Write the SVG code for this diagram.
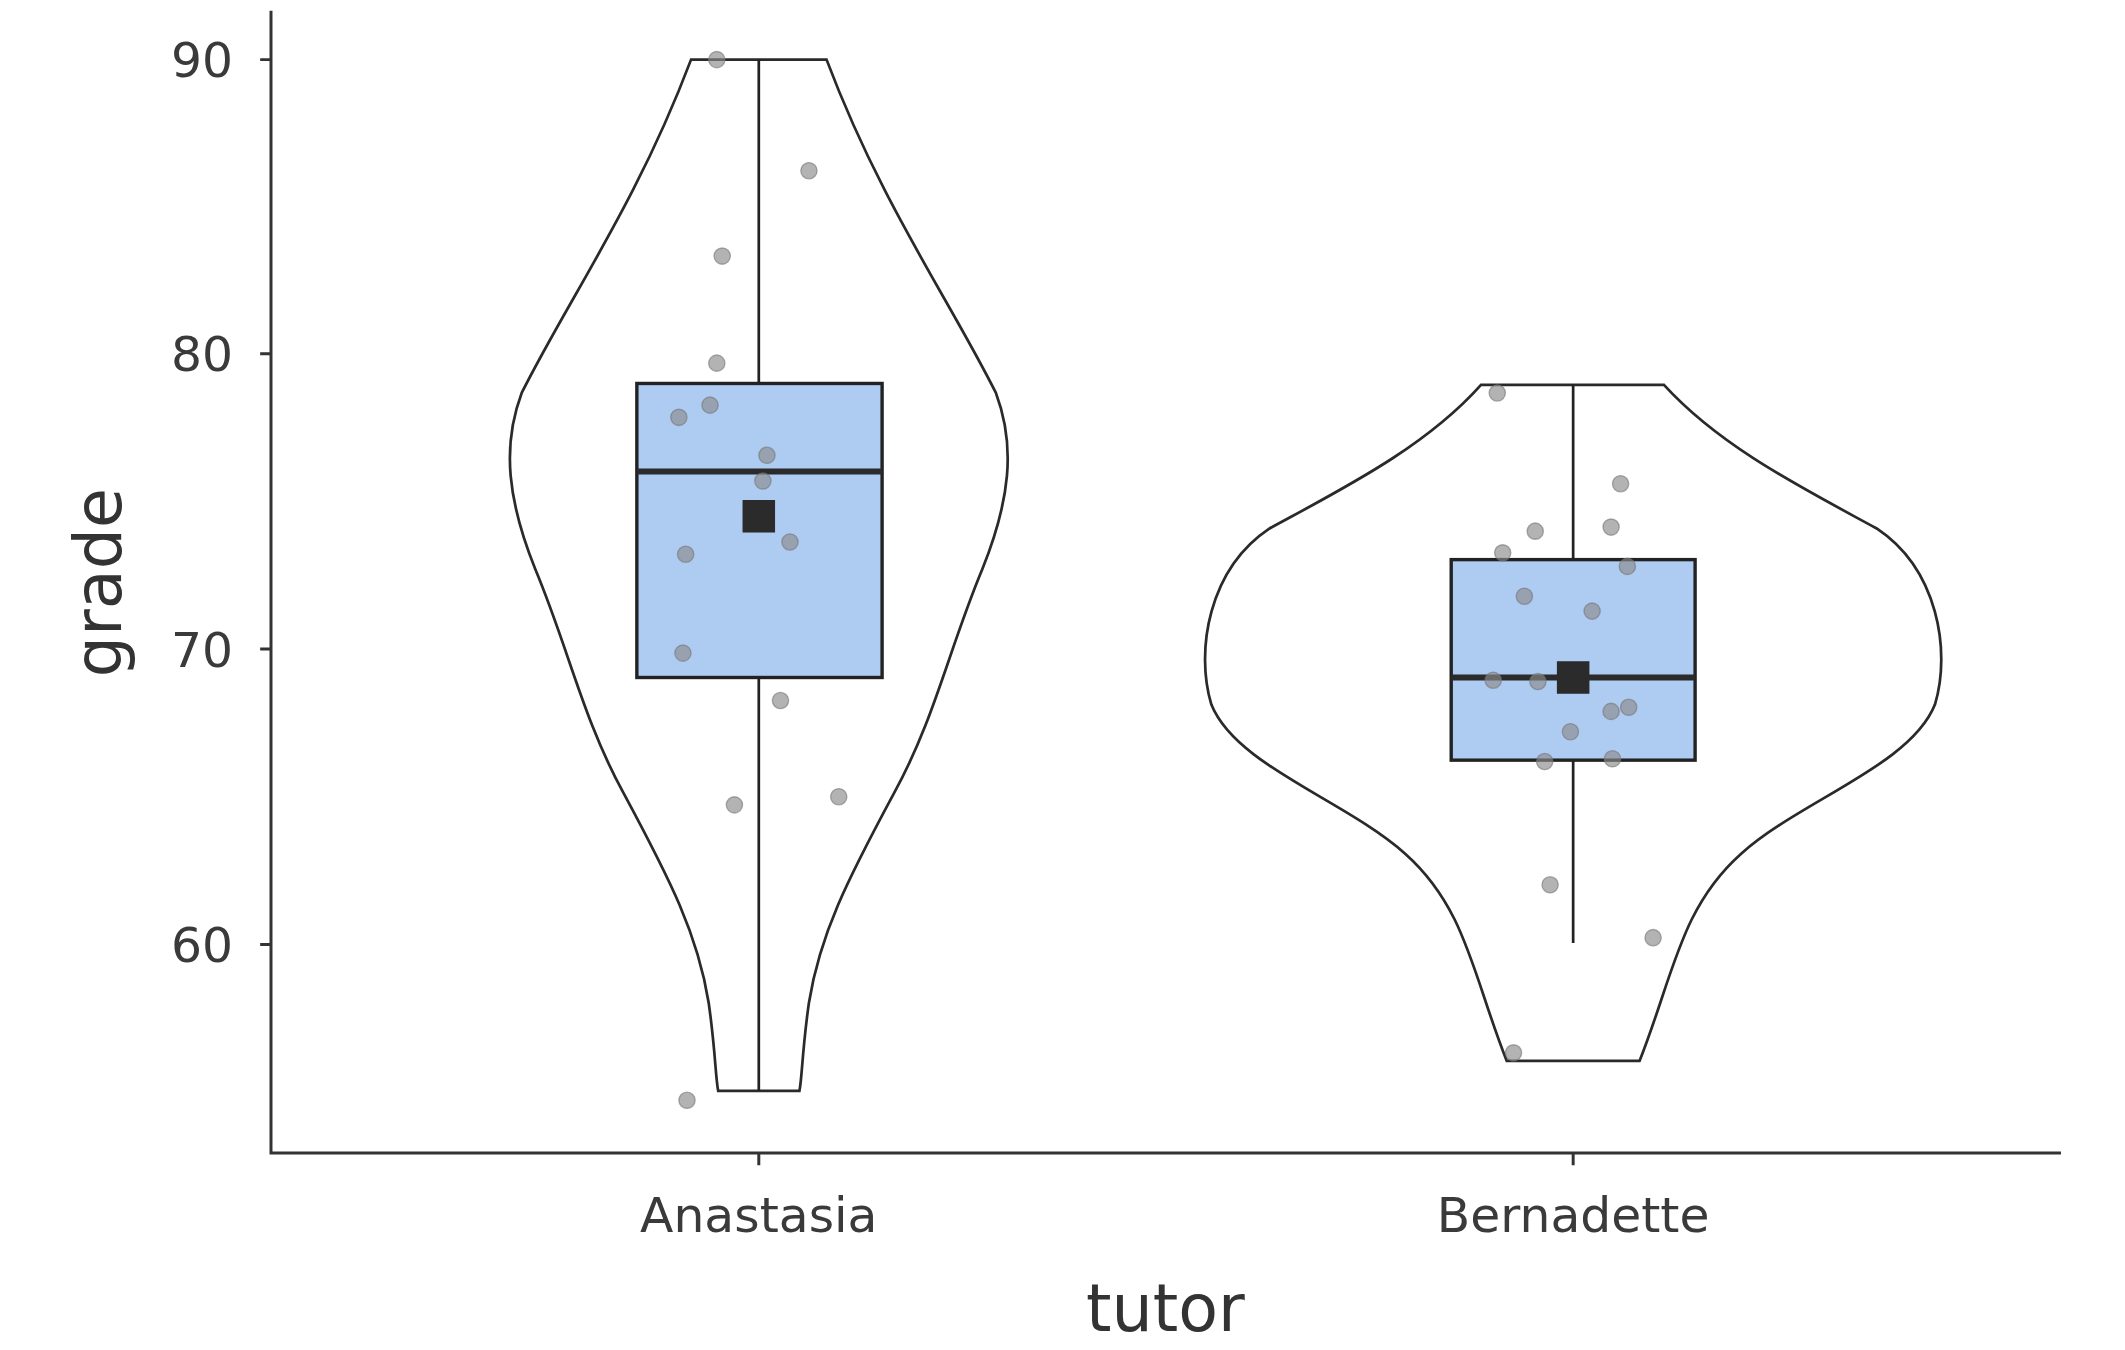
<svg xmlns="http://www.w3.org/2000/svg" width="2125" height="1350" viewBox="0 0 2125 1350">
<style>
.ax{stroke:#333;stroke-width:2.2;fill:none}
.vio{fill:#fff;stroke:#2a2a2a;stroke-width:2}
.box{fill:#aecbf2;stroke:#222;stroke-width:2.5}
.wh{stroke:#222;stroke-width:2}
.med{stroke:#2b2b2b;stroke-width:4.5}
.pt{fill:#8a8a8a;fill-opacity:0.65;stroke:#777;stroke-opacity:0.6;stroke-width:1}
.mean{fill:#2b2b2b}
.tk{font-family:"DejaVu Sans",sans-serif;font-size:36px;fill:#3a3a3a}
.tt{font-family:"DejaVu Sans",sans-serif;font-size:48px;fill:#333}
</style>
<rect width="2125" height="1350" fill="#fff"/>
<g transform="scale(1.355)">
<g id="axes">
<path class="ax" d="M200,8 V851 H1521"/>
<path class="ax" d="M192,44 H200 M192,261 H200 M192,479 H200 M192,697 H200 M560,851 V860 M1161,851 V860"/>
<text class="tk" x="172" y="57" text-anchor="end">90</text>
<text class="tk" x="172" y="274" text-anchor="end">80</text>
<text class="tk" x="172" y="492" text-anchor="end">70</text>
<text class="tk" x="172" y="710" text-anchor="end">60</text>
<text class="tk" x="560" y="909" text-anchor="middle">Anastasia</text>
<text class="tk" x="1161" y="909" text-anchor="middle">Bernadette</text>
<text class="tt" x="860" y="982" text-anchor="middle">tutor</text>
<text class="tt" x="72" y="430" text-anchor="middle" transform="rotate(-90 72 430)" dy="17">grade</text>
</g>
<g id="anastasia">
<path class="vio" d="M510,44 H610 C650,150 700,220 735,290 C750,330 745,370 725,420 C700,480 690,530 660,585 C625,650 605,690 597,740 C592,775 592,795 590,805 H530 C528,795 528,775 523,740 C515,690 495,650 460,585 C430,530 420,480 395,420 C375,370 370,330 385,290 C420,220 470,150 510,44 Z"/>
<line class="wh" x1="560" y1="44" x2="560" y2="805"/>
<rect class="box" x="470" y="283" width="181" height="217"/>
<line class="med" x1="470" y1="348" x2="651" y2="348"/>
<g>
<circle class="pt" cx="529" cy="44" r="6"/><circle class="pt" cx="597" cy="126" r="6"/><circle class="pt" cx="533" cy="189" r="6"/><circle class="pt" cx="529" cy="268" r="6"/><circle class="pt" cx="501" cy="308" r="6"/><circle class="pt" cx="524" cy="299" r="6"/><circle class="pt" cx="566" cy="336" r="6"/><circle class="pt" cx="563" cy="355" r="6"/><circle class="pt" cx="583" cy="400" r="6"/><circle class="pt" cx="506" cy="409" r="6"/><circle class="pt" cx="504" cy="482" r="6"/><circle class="pt" cx="576" cy="517" r="6"/><circle class="pt" cx="542" cy="594" r="6"/><circle class="pt" cx="619" cy="588" r="6"/><circle class="pt" cx="507" cy="812" r="6"/>
</g>
<rect class="mean" x="548" y="369" width="24" height="24"/>
</g>
<g id="bernadette">
<path class="vio" d="M1093,284 H1228 C1270,330 1330,360 1385,390 C1430,420 1440,480 1428,520 C1410,565 1330,590 1285,630 C1240,670 1235,720 1210,783 H1112 C1087,720 1082,670 1037,630 C992,590 912,565 894,520 C882,480 892,420 937,390 C992,360 1052,330 1093,284 Z"/>
<line class="wh" x1="1161" y1="284" x2="1161" y2="696"/>
<rect class="box" x="1071" y="413" width="180" height="148"/>
<line class="med" x1="1071" y1="500" x2="1251" y2="500"/>
<g>
<circle class="pt" cx="1105" cy="290" r="6"/><circle class="pt" cx="1196" cy="357" r="6"/><circle class="pt" cx="1133" cy="392" r="6"/><circle class="pt" cx="1189" cy="389" r="6"/><circle class="pt" cx="1109" cy="408" r="6"/><circle class="pt" cx="1201" cy="418" r="6"/><circle class="pt" cx="1125" cy="440" r="6"/><circle class="pt" cx="1175" cy="451" r="6"/><circle class="pt" cx="1102" cy="502" r="6"/><circle class="pt" cx="1135" cy="503" r="6"/><circle class="pt" cx="1189" cy="525" r="6"/><circle class="pt" cx="1202" cy="522" r="6"/><circle class="pt" cx="1159" cy="540" r="6"/><circle class="pt" cx="1140" cy="562" r="6"/><circle class="pt" cx="1190" cy="560" r="6"/><circle class="pt" cx="1144" cy="653" r="6"/><circle class="pt" cx="1220" cy="692" r="6"/><circle class="pt" cx="1117" cy="777" r="6"/>
</g>
<rect class="mean" x="1149" y="488" width="24" height="24"/>
</g>
</g>
</svg>
